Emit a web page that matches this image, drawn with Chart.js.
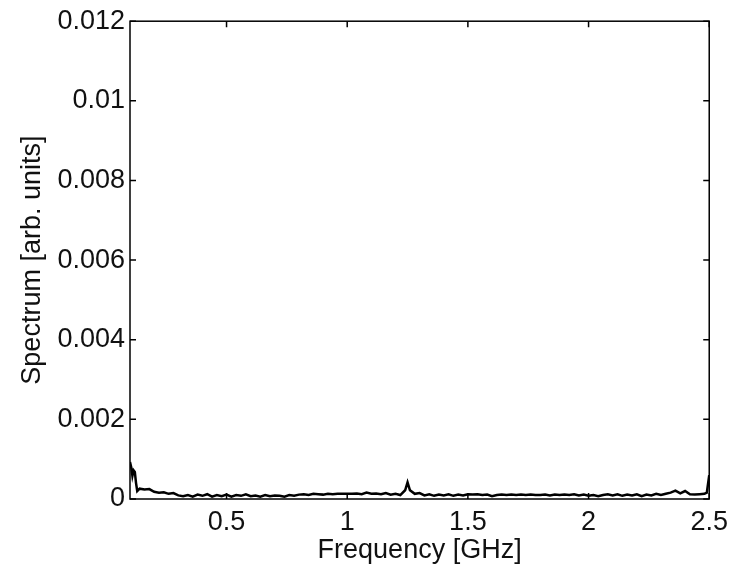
<!DOCTYPE html>
<html lang="en">

<head>
    <meta charset="UTF-8">
    <title>Spectrum</title>
    <script src="https://cdn.jsdelivr.net/npm/chart.js"></script>
    <style>
        html, body { margin: 0; padding: 0; background: #fff; }
        #box { width: 735px; height: 567px; }
    </style>
</head>

<body>
    <div id="box">
        <canvas id="graficoEspectro"></canvas>
    </div>

<script>
    // Dados do espectro
    const frequencias = [
        0.10, 0.105, 0.11, 0.115, 0.12, 0.125, 0.13, 0.14, 0.16, 0.18, 0.20, 0.22, 0.24, 0.26, 0.28, 0.30,
        0.32, 0.34, 0.36, 0.38, 0.40, 0.42, 0.44, 0.46, 0.48, 0.50, 0.52, 0.54, 0.56, 0.58, 0.60,
        0.62, 0.64, 0.66, 0.68, 0.70, 0.72, 0.74, 0.76, 0.78, 0.80, 0.82, 0.84, 0.86, 0.88, 0.90,
        0.92, 0.94, 0.96, 0.98, 1.00, 1.02, 1.04, 1.06, 1.08, 1.10, 1.12, 1.14, 1.16, 1.18, 1.20,
        1.22, 1.24, 1.25, 1.26, 1.28, 1.30, 1.32, 1.34, 1.36, 1.38, 1.40, 1.42, 1.44, 1.46, 1.48, 1.50,
        1.52, 1.54, 1.56, 1.58, 1.60, 1.62, 1.64, 1.66, 1.68, 1.70, 1.72, 1.74, 1.76, 1.78, 1.80,
        1.82, 1.84, 1.86, 1.88, 1.90, 1.92, 1.94, 1.96, 1.98, 2.00, 2.02, 2.04, 2.06, 2.08, 2.10,
        2.12, 2.14, 2.16, 2.18, 2.20, 2.22, 2.24, 2.26, 2.28, 2.30, 2.32, 2.34, 2.36, 2.38, 2.40,
        2.42, 2.44, 2.46, 2.48, 2.49, 2.50
    ];

    const espectro = [
        0.00093, 0.00080, 0.00058, 0.00072, 0.00068, 0.00040, 0.00020, 0.00026, 0.00024, 0.00025, 0.00018, 0.00016, 0.00017, 0.00013, 0.00015, 0.00009,
        0.00007, 0.00010, 0.00006, 0.00011, 0.00008, 0.00012, 0.00006, 0.00010, 0.00007, 0.00011, 0.00006, 0.00010, 0.00008, 0.00012, 0.00007,
        0.00009, 0.00006, 0.00010, 0.00007, 0.00009, 0.00008, 0.00006, 0.00010, 0.00008, 0.00011, 0.00012, 0.00010, 0.00013, 0.00012, 0.00011,
        0.00013, 0.00012, 0.00013, 0.00013, 0.00013, 0.00013, 0.00014, 0.00012, 0.00016, 0.00013, 0.00014, 0.00012, 0.00015, 0.00011, 0.00013,
        0.00010, 0.00022, 0.00042, 0.00022, 0.00013, 0.00015, 0.00009, 0.00012, 0.00008, 0.00011, 0.00009, 0.00012, 0.00008, 0.00011, 0.00009, 0.00012,
        0.00011, 0.00012, 0.00010, 0.00011, 0.00007, 0.00010, 0.00011, 0.00010, 0.00011, 0.00010, 0.00011, 0.00010, 0.00011, 0.00010, 0.00010,
        0.00011, 0.00009, 0.00011, 0.00010, 0.00011, 0.00010, 0.00012, 0.00009, 0.00011, 0.00008, 0.00010, 0.00007, 0.00010, 0.00012, 0.00009,
        0.00012, 0.00008, 0.00011, 0.00009, 0.00012, 0.00007, 0.00011, 0.00009, 0.00013, 0.00010, 0.00013, 0.00016, 0.00021, 0.00014, 0.00020,
        0.00012, 0.00011, 0.00012, 0.00013, 0.00016, 0.00060
    ];

    const ticksX = [0.5, 1, 1.5, 2, 2.5];
    const ticksY = [0, 0.002, 0.004, 0.006, 0.008, 0.01, 0.012];

    const pontos = frequencias.map((f, i) => ({ x: f, y: espectro[i] }));

    // moldura estilo matlab com ticks para dentro
    const moldura = {
        id: 'moldura',
        afterDraw(chart) {
            const ctx = chart.ctx;
            const a = chart.chartArea;
            const sx = chart.scales.x;
            const sy = chart.scales.y;
            const t = 6;
            ctx.save();
            ctx.strokeStyle = '#000';
            ctx.lineWidth = 1.5;
            ctx.strokeRect(a.left, a.top, a.right - a.left, a.bottom - a.top);
            ctx.beginPath();
            ticksX.forEach(v => {
                const px = sx.getPixelForValue(v);
                ctx.moveTo(px, a.bottom); ctx.lineTo(px, a.bottom - t);
                ctx.moveTo(px, a.top); ctx.lineTo(px, a.top + t);
            });
            ticksY.forEach(v => {
                const py = sy.getPixelForValue(v);
                ctx.moveTo(a.left, py); ctx.lineTo(a.left + t, py);
                ctx.moveTo(a.right, py); ctx.lineTo(a.right - t, py);
            });
            ctx.stroke();
            ctx.restore();
        }
    };

    const fonte = { family: 'Arial, "Liberation Sans", sans-serif', size: 27 };

    const config = {
        type: 'line',
        data: {
            datasets: [{
                label: 'Spectrum',
                data: pontos,
                borderColor: '#000',
                borderWidth: 2.5,
                pointRadius: 0,
                tension: 0,
                fill: false
            }]
        },
        plugins: [moldura],
        options: {
            responsive: true,
            maintainAspectRatio: false,
            animation: false,
            layout: {
                padding: { top: 20, right: 23, left: 16, bottom: 0 }
            },
            plugins: {
                legend: { display: false },
                tooltip: { enabled: false }
            },
            scales: {
                x: {
                    type: 'linear',
                    min: 0.1,
                    max: 2.5,
                    afterBuildTicks: s => { s.ticks = ticksX.map(v => ({ value: v })); },
                    afterFit: s => { s.height = 68; },
                    grid: { display: false, drawTicks: false },
                    border: { display: false },
                    ticks: {
                        color: '#111',
                        font: fonte,
                        padding: 7,
                        maxRotation: 0,
                        autoSkip: false,
                        callback: v => String(v)
                    },
                    title: {
                        display: true,
                        text: 'Frequency [GHz]',
                        color: '#111',
                        font: fonte,
                        padding: { top: 0, bottom: 0 }
                    }
                },
                y: {
                    type: 'linear',
                    min: 0,
                    max: 0.012,
                    afterBuildTicks: s => { s.ticks = ticksY.map(v => ({ value: v })); },
                    afterFit: s => { s.width = 114; },
                    grid: { display: false, drawTicks: false },
                    border: { display: false },
                    ticks: {
                        color: '#111',
                        font: fonte,
                        padding: 5,
                        autoSkip: false,
                        callback: v => String(parseFloat(v.toFixed(3)))
                    },
                    title: {
                        display: true,
                        text: 'Spectrum [arb. units]',
                        color: '#111',
                        font: fonte,
                        padding: { top: 0, bottom: 0 }
                    }
                }
            }
        }
    };

    const grafico = new Chart(document.getElementById('graficoEspectro'), config);
</script>
</body>

</html>
